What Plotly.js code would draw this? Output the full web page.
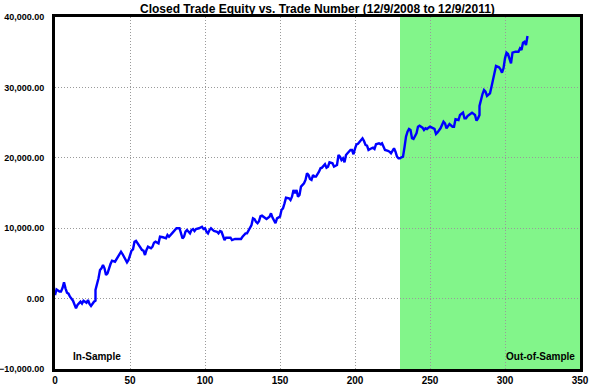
<!DOCTYPE html>
<html>
<head>
<meta charset="utf-8">
<script src="https://cdn.plot.ly/plotly-3.0.1.min.js"></script>
<style>
html,body{margin:0;padding:0;background:#fff;}
#chart{width:590px;height:387px;}
</style>
</head>
<body>
<div id="chart"></div>
<script>
// Trade numbers and closed trade equity values
const tradeNumbers = [
  0,1,3,4,5,6,7,8,9,10,12,13,14,15,17,18,19,21,22,23,24,26,27,27,28,29,30,31,32,33,34,35,37,38,40,42,44,45,47,48,49,51,52,53,54,56,58,59,60,61,62,64,65,66,
  67,69,70,72,74,75,76,78,79,81,83,84,85,86,87,88,90,91,92,93,94,96,98,99,100,101,102,103,104,106,108,109,110,111,112,113,114,117,118,120,122,124,125,127,128,130,131,132,133,134,135,136,137,
  138,140,141,143,144,145,146,147,148,150,151,152,153,154,156,157,158,159,160,161,162,163,164,166,167,168,169,170,171,172,173,174,176,177,178,179,180,181,182,183,185,186,188,189,190,191,192,193,194,195,197,198,199,
  200,201,202,203,205,206,207,208,209,211,212,213,214,216,217,218,219,220,222,223,224,226,227,228,229,230,231,232,233,234,235,236,237,238,239,241,242,243,245,246,247,248,249,250,
  253,254,255,257,259,260,261,262,263,265,266,267,269,270,272,273,274,275,277,278,280,281,282,283,283,284,285,286,287,288,289,290,291,292,293,294,296,297,298,299,300,301,302,303,304,305,307,309,310,311,312,313,314,315
];
const equity = [
  500,1300,1000,1000,1500,2300,1460,840,700,270,-300,-910,-1380,-910,-440,-700,-300,-580,-200,-770,-1050,-440,-300,1220,1930,2880,4060,4300,4770,4300,3350,3590,4910,5380,5240,5950,6660,6330,5480,5150,5480,6800,7000,8080,8200,7470,6900,6800,6190,6900,7370,7140,7370,7940,
  8080,7850,8790,8710,8560,9030,8790,9270,9500,9990,9990,9030,8560,8790,9500,9740,9270,9740,9880,9600,9880,9990,10210,9880,9990,9500,9270,9740,9990,9600,9500,9270,9600,9500,8790,8320,8650,8650,8320,8470,8470,8470,8790,9270,9270,10070,10450,11400,11300,10900,10700,11000,11700,
  11780,11400,11300,11640,12110,11500,11160,10700,11400,11640,12590,12830,13530,14330,14250,14010,14480,15430,14960,15430,14480,14720,15900,16380,16850,17800,17560,16990,16850,17560,17320,17320,18030,18510,18600,18880,19080,18600,18740,19360,19220,18740,18980,20400,20160,19690,19930,19360,20400,20640,21110,21110,20500,
  21300,21900,22000,22290,22770,22390,21820,21720,21110,21350,21430,21250,21920,22060,21920,22060,21580,21110,20970,20870,20640,21350,20870,20160,19930,19930,20070,20160,21500,23000,23710,24090,23950,22770,22670,23480,24420,24560,24280,23950,24190,24090,24280,24420,
  24100,23380,23600,24190,25130,24900,24190,24420,24800,24420,24420,25470,25370,26080,26410,25610,25610,25940,26220,26410,26080,25270,25610,26080,27360,28450,29060,29630,29390,28780,28920,29160,30100,31050,32230,33040,32850,32570,32090,32710,34130,34930,34740,33890,33420,34930,35070,35070,35550,35310,36350,36490,36020,37300
];
const outOfSampleStart = 230;   // first out-of-sample trade
const xTickVals = [0,50,100,150,200,250,300,350];
const yTickVals = [-10000,0,10000,20000,30000,40000];
const titleText = 'Closed Trade Equity vs. Trade Number (12/9/2008 to 12/9/2011)';
const inSampleLabel = 'In-Sample';
const outSampleLabel = 'Out-of-Sample';

const trace = {
  x: tradeNumbers,
  y: equity,
  type: 'scatter',
  mode: 'lines',
  line: {color: '#0000ff', width: 2.4},
  hoverinfo: 'skip'
};

const fam = '"Liberation Sans", Arial, sans-serif';
const yTickFont = {family: fam, size: 9, color: '#000', weight: 'bold'};
const xTickFont = {family: fam, size: 10, color: '#000', weight: 'bold'};

const layout = {
  width: 590, height: 387,
  margin: {l: 55, r: 10, t: 17, b: 18, pad: 0},
  paper_bgcolor: '#ffffff',
  plot_bgcolor: '#ffffff',
  showlegend: false,
  title: {
    text: titleText,
    font: {family: fam, size: 12, color: '#000', weight: 'bold'},
    x: 0.538, xanchor: 'center', y: 0.978, yanchor: 'middle'
  },
  xaxis: {
    range: [0, 350], tickvals: xTickVals, ticktext: xTickVals.map(String),
    showgrid: true, gridcolor: '#9a9a9a', griddash: '1px,2px', gridwidth: 1,
    zeroline: false, showline: true, linecolor: '#000', linewidth: 3, mirror: true,
    ticks: '', tickfont: xTickFont, ticklabelstandoff: 0, fixedrange: true
  },
  yaxis: {
    range: [-10000, 40000], tickvals: yTickVals, tickformat: ',.2f',
    showgrid: true, gridcolor: '#9a9a9a', griddash: '1px,2px', gridwidth: 1,
    zeroline: false, showline: true, linecolor: '#000', linewidth: 3, mirror: true,
    ticks: '', tickfont: yTickFont, ticklabelstandoff: 6, fixedrange: true
  },
  shapes: [{
    type: 'rect', xref: 'x', yref: 'paper',
    x0: outOfSampleStart, x1: 350, y0: 0, y1: 1,
    fillcolor: '#82f58a', line: {width: 0}, layer: 'below'
  }],
  annotations: [
    {text: inSampleLabel, xref: 'paper', yref: 'paper', x: 0.03, y: 0.013,
     xanchor: 'left', yanchor: 'bottom', showarrow: false,
     font: {family: fam, size: 10, color: '#000', weight: 'bold'}},
    {text: outSampleLabel, xref: 'paper', yref: 'paper', x: 0.994, y: 0.013,
     xanchor: 'right', yanchor: 'bottom', showarrow: false,
     font: {family: fam, size: 10, color: '#000', weight: 'bold'}}
  ]
};

Plotly.newPlot('chart', [trace], layout, {displayModeBar: false, staticPlot: true});
</script>
</body>
</html>
